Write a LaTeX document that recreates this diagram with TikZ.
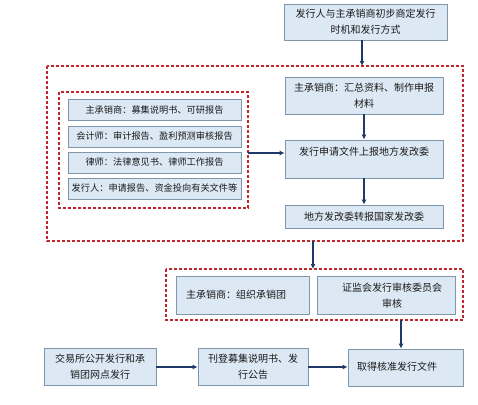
\documentclass[tikz,border=0pt]{standalone}
\usepackage{fontspec}
\setmainfont{Noto Sans CJK SC}
\usetikzlibrary{arrows.meta}
\definecolor{boxfill}{HTML}{DCE9F5}
\definecolor{boxline}{HTML}{7F96AD}
\definecolor{dashred}{HTML}{C0272D}
\definecolor{arrowc}{HTML}{1F3A68}
\definecolor{txt}{HTML}{1A1A1A}
\tikzset{
  box/.style={draw=boxline, line width=0.8pt, fill=boxfill, inner sep=0pt, align=center, text=txt, font=\fontsize{10}{16}\selectfont},
  smallbox/.style={box, minimum width=173pt, minimum height=21pt, font=\fontsize{9.2}{10}\selectfont},
  lbl/.style={inner sep=0pt, align=center, text=txt, font=\fontsize{10}{16}\selectfont},
  group/.style={draw=dashred, line width=1.3pt, dash pattern=on 3pt off 2pt},
  conn/.style={draw=arrowc, line width=1.3pt, -{Latex[length=5pt,width=5pt]}},
}
\begin{document}
\begin{tikzpicture}[x=1pt,y=-1pt]
\useasboundingbox (0,0) rectangle (478,404);
% top box
\node[box, minimum width=163pt, minimum height=36pt] (top) at (365.5,22) {发行人与主承销商初步商定发行\\时机和发行方式};
% big dashed group
\draw[group] (47,66) rectangle (463,241);
\coordinate (g1top) at (362,66);
\coordinate (g1bot) at (313,241);
% right column
\node[box, minimum width=158pt, minimum height=37pt] (A) at (364,95.5) {主承销商：汇总资料、制作申报\\材料};
\node[box, minimum width=158pt, minimum height=38pt] (B) at (364,159) {};
\node[lbl] (Bt) at (364,152) {发行申请文件上报地方发改委};
\node[box, minimum width=158pt, minimum height=23pt] (C) at (364,216.5) {地方发改委转报国家发改委};
% inner dashed group
\draw[group] (59,92) rectangle (248,208);
\coordinate (g2r) at (248,153);
\node[smallbox] (s1) at (154.5,110) {主承销商：募集说明书、可研报告};
\node[smallbox] (s2) at (154.5,136.5) {会计师：审计报告、盈利预测审核报告};
\node[smallbox] (s3) at (154.5,162.5) {律师：法律意见书、律师工作报告};
\node[smallbox] (s4) at (154.5,188.5) {发行人：申请报告、资金投向有关文件等};
% second dashed group
\draw[group] (166,269) rectangle (463,320);
\coordinate (g3top) at (313,269);
\coordinate (g3bot) at (401,320);
\node[box, minimum width=133pt, minimum height=38pt] (D) at (242.5,295) {};
\node[lbl] (Dt) at (236,295) {主承销商：组织承销团};
\node[box, minimum width=138pt, minimum height=38pt] (E) at (386,295) {};
\node[lbl] (Et) at (392,295.5) {证监会发行审核委员会\\审核};
% bottom row
\node[box, minimum width=115pt, minimum height=37pt] (F) at (405.5,367.5) {};
\node[lbl] (Ft) at (397,367) {取得核准发行文件};
\node[box, minimum width=110pt, minimum height=37pt] (G) at (253,366.5) {刊登募集说明书、发\\行公告};
\node[box, minimum width=112pt, minimum height=37pt] (H) at (100,366.5) {交易所公开发行和承\\销团网点发行};
% connectors
\draw[conn] (top.south -| g1top) -- (g1top);
\draw[conn] (A) -- (B);
\draw[conn] (B) -- (C);
\draw[conn] (g2r) -- (g2r -| B.west);
\draw[conn] (g1bot) -- (g3top);
\draw[conn] (g3bot) -- (g3bot |- F.north);
\draw[conn] (H.east |- 0,367) -- (G.west |- 0,367);
\draw[conn] (G.east |- 0,367) -- (F.west |- 0,367);
\end{tikzpicture}
\end{document}
